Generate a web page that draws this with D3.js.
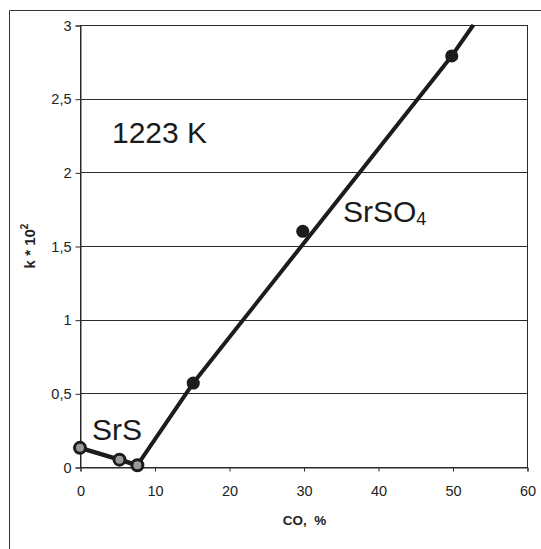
<!DOCTYPE html>
<html>
<head>
<meta charset="utf-8">
<script src="https://cdn.jsdelivr.net/npm/d3@7"></script>
<style>
  html, body { margin: 0; padding: 0; background: #fff; }
  svg { display: block; font-family: "Liberation Sans", Arial, sans-serif; }
</style>
</head>
<body>
<svg id="chart" width="541" height="549"></svg>
<script>
// CO content (%) and rate constant k·10² at 1223 K
const srsCO = [0, 5.3, 7.7];
const srsK = [0.13, 0.05, 0.012];
const srso4CO = [15.2, 29.9, 49.9];
const srso4K = [0.57, 1.6, 2.79];
// trend line drawn through the SrSO4 region, up to the top of the plot
const trendCO = [7.7, 15.2, 49.9, 52.8];
const trendK = [0.012, 0.57, 2.79, 3.0];

const xTicks = [0, 10, 20, 30, 40, 50, 60];
const yTicks = [0, 0.5, 1, 1.5, 2, 2.5, 3];
const yTickLabels = ["0", "0,5", "1", "1,5", "2", "2,5", "3"];

const svg = d3.select("#chart");
const plotL = 80, plotR = 527, plotT = 25, plotB = 467;
const ink = "#1c1c1c";

const x = d3.scaleLinear().domain([0, 60]).range([plotL, plotR]);
const y = d3.scaleLinear().domain([0, 3]).range([plotB, plotT]);

// outer frame
svg.append("path")
  .attr("d", `M9.5,549 V10.5 H541`)
  .attr("fill", "none").attr("stroke", "#333").attr("stroke-width", 1);

// horizontal grid
svg.append("g").selectAll("line").data(yTicks).join("line")
  .attr("x1", plotL).attr("x2", plotR)
  .attr("y1", d => Math.round(y(d)) + 0.5).attr("y2", d => Math.round(y(d)) + 0.5)
  .attr("stroke", "#2a2a2a").attr("stroke-width", 1);

// plot box
svg.append("rect")
  .attr("x", plotL + 0.5).attr("y", plotT + 0.5)
  .attr("width", plotR - plotL).attr("height", plotB - plotT)
  .attr("fill", "none").attr("stroke", "#2a2a2a").attr("stroke-width", 1);

// y axis
const yAxis = svg.append("g").attr("transform", `translate(${plotL + 0.5},0.5)`)
  .call(d3.axisLeft(y).tickValues(yTicks).tickFormat((d, i) => yTickLabels[i]).tickSize(5).tickPadding(4));
yAxis.select(".domain").attr("stroke", "#2a2a2a");
yAxis.selectAll(".tick line").attr("stroke", "#2a2a2a");
yAxis.selectAll("text").attr("font-size", 14.5).attr("fill", "#222")
  .attr("font-family", "Liberation Sans, Arial, sans-serif");

// x axis
const xAxis = svg.append("g").attr("transform", `translate(0.5,${plotB + 0.5})`)
  .call(d3.axisBottom(x).tickValues(xTicks).tickFormat(d3.format("d")).tickSize(4).tickPadding(14));
xAxis.select(".domain").attr("stroke", "#2a2a2a");
xAxis.selectAll(".tick line").attr("stroke", "#2a2a2a");
xAxis.selectAll("text").attr("font-size", 14.5).attr("fill", "#222")
  .attr("font-family", "Liberation Sans, Arial, sans-serif");

// axis titles
svg.append("text")
  .attr("x", (plotL + plotR) / 2 + 1).attr("y", 525)
  .attr("text-anchor", "middle").attr("font-size", 13.5).attr("font-weight", "bold")
  .attr("fill", "#222").style("white-space", "pre")
  .text("CO,  %");

const yt = svg.append("text")
  .attr("transform", `translate(35,${(plotT + plotB) / 2}) rotate(-90)`)
  .attr("text-anchor", "middle").attr("font-size", 15).attr("font-weight", "bold")
  .attr("fill", "#222").style("white-space", "pre");
yt.append("tspan").text("k * 10");
yt.append("tspan").attr("font-size", 10).attr("dy", -7).text("2");

const line = d3.line().x(d => x(d[0])).y(d => y(d[1]));

// SrSO4 trend line
svg.append("path")
  .datum(trendCO.map((c, i) => [c, trendK[i]]))
  .attr("d", line)
  .attr("fill", "none").attr("stroke", ink).attr("stroke-width", 4)
  .attr("stroke-linejoin", "round");

// SrS branch
const srsPts = srsCO.map((c, i) => [c, srsK[i]]);
svg.append("path")
  .datum(srsPts)
  .attr("d", line)
  .attr("fill", "none").attr("stroke", ink).attr("stroke-width", 4.5)
  .attr("stroke-linejoin", "round");

svg.append("g").selectAll("circle").data(srsPts).join("circle")
  .attr("cx", d => x(d[0])).attr("cy", d => y(d[1]))
  .attr("r", 5.5).attr("fill", "#9a9a9a").attr("stroke", ink).attr("stroke-width", 3);

// SrSO4 points
const so4Pts = srso4CO.map((c, i) => [c, srso4K[i]]);
svg.append("g").selectAll("path").data(so4Pts).join("path")
  .attr("transform", d => `translate(${x(d[0])},${y(d[1])})`)
  .attr("d", d3.symbol().type(d3.symbolCircle).size(135))
  .attr("fill", ink);

// annotations
svg.append("text").attr("x", 112).attr("y", 143)
  .attr("font-size", 30).attr("fill", "#1a1a1a").text("1223 K");

const so4 = svg.append("text").attr("x", 343).attr("y", 222)
  .attr("font-size", 30).attr("fill", "#1a1a1a");
so4.append("tspan").text("SrSO");
so4.append("tspan").attr("font-size", 18).attr("dy", 3).text("4");

svg.append("text").attr("x", 92).attr("y", 440)
  .attr("font-size", 30).attr("fill", "#1a1a1a").text("SrS");
</script>
</body>
</html>
